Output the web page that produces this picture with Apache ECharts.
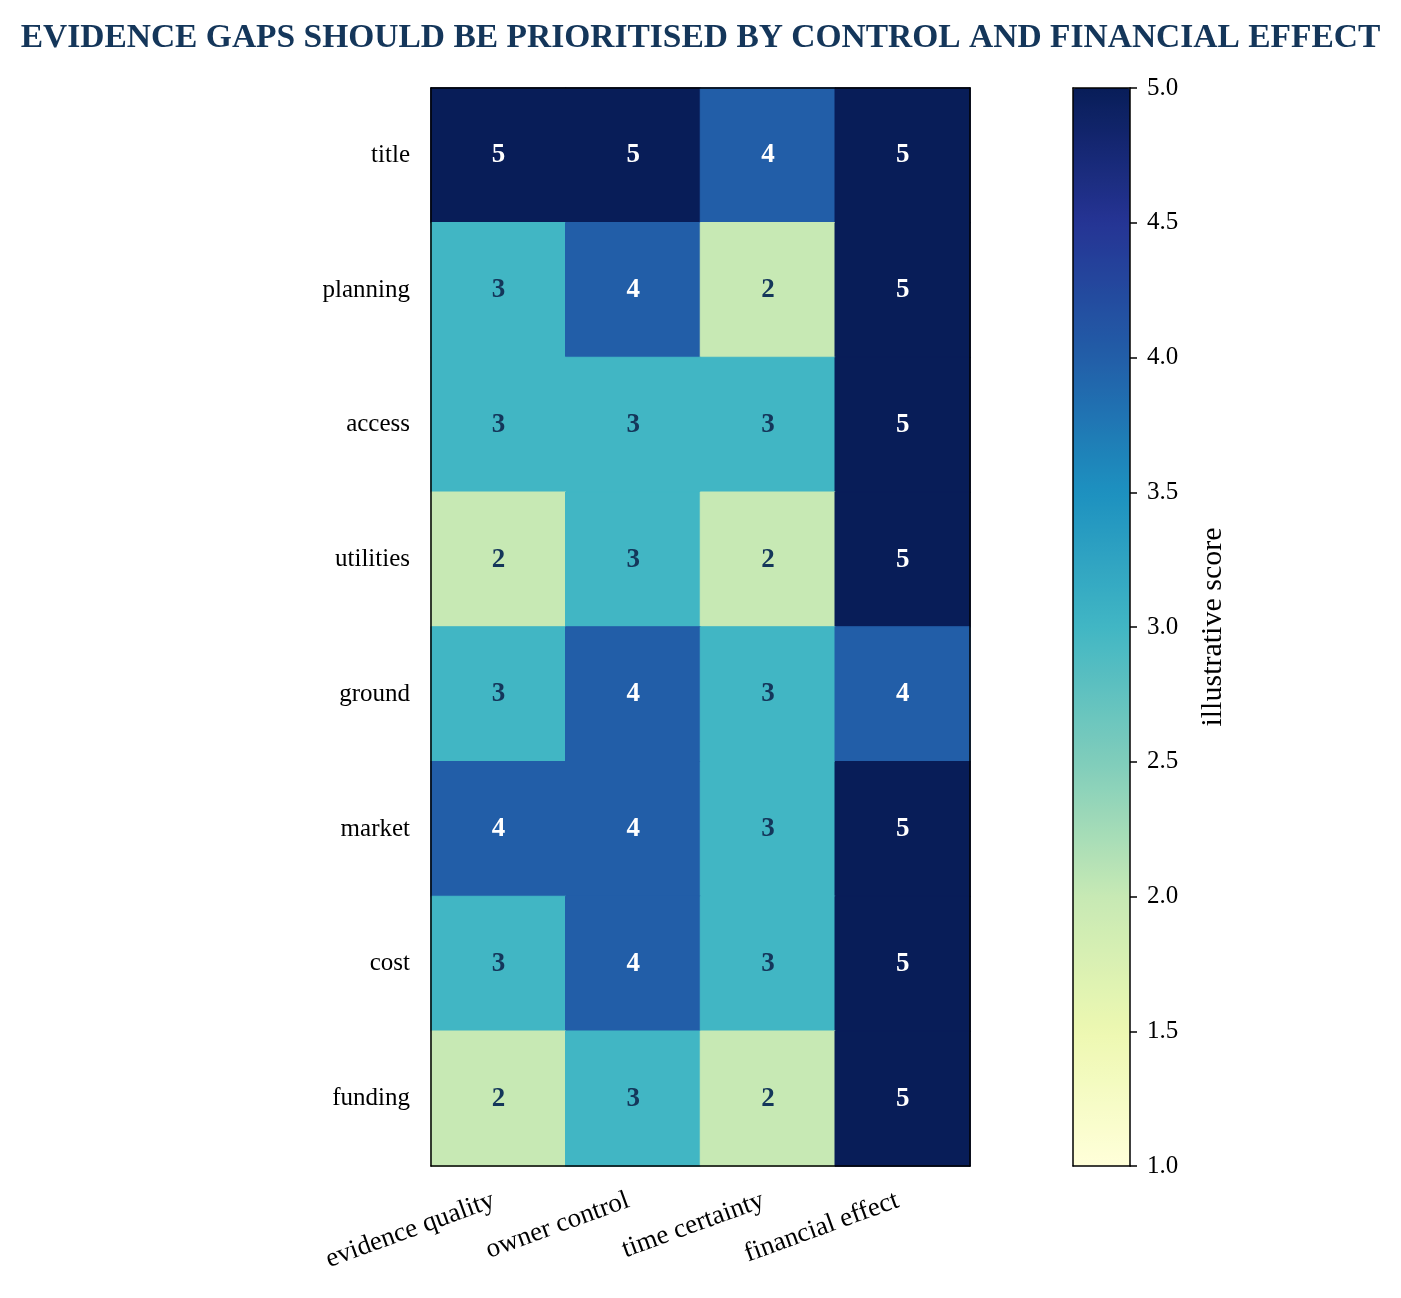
<!DOCTYPE html>
<html>
<head>
<meta charset="utf-8">
<script src="https://cdn.jsdelivr.net/npm/echarts@6/dist/echarts.min.js"></script>
<style>
  html, body { margin: 0; padding: 0; background: #fff; }
  #main { width: 1401px; height: 1298px; }
</style>
</head>
<body>
<div id="main"></div>
<script>
// rows top to bottom, columns left to right
var rows = ['title', 'planning', 'access', 'utilities', 'ground', 'market', 'cost', 'funding'];
var cols = ['evidence quality', 'owner control', 'time certainty', 'financial effect'];
var scores = [
	[5, 5, 4, 5],
	[3, 4, 2, 5],
	[3, 3, 3, 5],
	[2, 3, 2, 5],
	[3, 4, 3, 4],
	[4, 4, 3, 5],
	[3, 4, 3, 5],
	[2, 3, 2, 5]
];
var barTicks = [1.0, 1.5, 2.0, 2.5, 3.0, 3.5, 4.0, 4.5, 5.0];
// YlGnBu
var ylgnbu = ['#ffffd9', '#edf8b1', '#c7e9b4', '#7fcdbb', '#41b6c4', '#1d91c0', '#225ea8', '#253494', '#081d58'];

var font = 'Liberation Serif';
var navy = '#14365a';
var fs = 25;

// colour of a score, same scale as the colour bar (1..5 over the 9 stops)
function scoreColor(v) {
	return ylgnbu[Math.round((v - 1) / 4 * (ylgnbu.length - 1))];
}

var cells = [];
for(var r = 0; r < rows.length; r++) {
	for(var c = 0; c < cols.length; c++) {
		cells.push({
			value: [c, r, scores[r][c]],
			itemStyle: { borderColor: scoreColor(scores[r][c]), borderWidth: 1 },
			label: { color: scores[r][c] >= 4 ? '#fff' : navy }
		});
	}
}

var frame = { lineStyle: { color: '#000', width: 1.5 } };

var chart = echarts.init(document.getElementById('main'));
var option = {
	animation: false,
	textStyle: { fontFamily: font },
	title: {
		text: 'EVIDENCE GAPS SHOULD BE PRIORITISED BY CONTROL AND FINANCIAL EFFECT',
		left: 'center',
		top: 16,
		textStyle: { fontFamily: font, fontSize: 33.5, fontWeight: 'bold', color: navy }
	},
	grid: [
		{ left: 431, top: 88, width: 539, height: 1078 },
		{ left: 1073, top: 88, width: 57, height: 1078 }
	],
	xAxis: [{
		type: 'category', gridIndex: 0, data: cols, position: 'bottom', z: 10,
		axisLine: frame,
		axisTick: { alignWithLabel: true, length: 7, lineStyle: { color: '#000', width: 1.5 } },
		axisLabel: { rotate: 20, margin: 32, padding: [0, 5, 0, 0], fontSize: 27, color: '#000', fontFamily: font },
		splitLine: { show: false }
	}, {
		type: 'category', gridIndex: 0, data: cols, position: 'top', z: 10,
		axisLine: frame, axisTick: { show: false }, axisLabel: { show: false }
	}, {
		type: 'category', gridIndex: 1, data: [''], z: 10,
		axisLine: frame, axisTick: { show: false }, axisLabel: { show: false }
	}, {
		type: 'category', gridIndex: 1, data: [''], position: 'top', z: 10,
		axisLine: frame, axisTick: { show: false }, axisLabel: { show: false }
	}],
	yAxis: [{
		type: 'category', gridIndex: 0, data: rows, inverse: true, position: 'left', z: 10,
		axisLine: frame,
		axisTick: { alignWithLabel: true, length: 7, lineStyle: { color: '#000', width: 1.5 } },
		axisLabel: { margin: 21, fontSize: fs, color: '#000', fontFamily: font },
		splitLine: { show: false }
	}, {
		type: 'category', gridIndex: 0, data: rows, inverse: true, position: 'right', z: 10,
		axisLine: frame, axisTick: { show: false }, axisLabel: { show: false }
	}, {
		type: 'value', gridIndex: 1, min: barTicks[0], max: barTicks[barTicks.length - 1],
		interval: barTicks[1] - barTicks[0], position: 'right', z: 10,
		axisLine: { show: true, lineStyle: { color: '#000', width: 1.5 } },
		axisTick: { show: true, length: 7, lineStyle: { color: '#000', width: 1.5 } },
		axisLabel: {
			margin: 17, fontSize: fs, color: '#000', fontFamily: font,
			formatter: function(v) { return v.toFixed(1); }
		},
		splitLine: { show: false },
		name: 'illustrative score', nameLocation: 'middle', nameGap: 68, nameRotate: 90,
		nameTextStyle: { fontSize: 30, color: '#000', fontFamily: font }
	}, {
		type: 'value', gridIndex: 1, min: 1, max: 5, position: 'left', z: 10,
		axisLine: { show: true, lineStyle: { color: '#000', width: 1.5 } },
		axisTick: { show: false }, axisLabel: { show: false }, splitLine: { show: false }
	}],
	visualMap: {
		type: 'continuous',
		min: 1, max: 5,
		seriesIndex: 0,
		calculable: false,
		orient: 'vertical',
		left: 1073, top: 88,
		itemWidth: 57, itemHeight: 1078,
		padding: 0,
		text: null,
		showLabel: false,
		hoverLink: false,
		inRange: { color: ylgnbu }
	},
	series: [{
		type: 'heatmap',
		xAxisIndex: 0, yAxisIndex: 0,
		data: cells,
		label: {
			show: true,
			fontSize: 27,
			fontWeight: 'bold',
			fontFamily: font,
			formatter: function(p) { return p.value[2]; }
		},
		emphasis: { disabled: true }
	}, {
		type: 'line', xAxisIndex: 2, yAxisIndex: 2, data: [], silent: true
	}]
};

chart.setOption(option);
</script>
</body>
</html>
